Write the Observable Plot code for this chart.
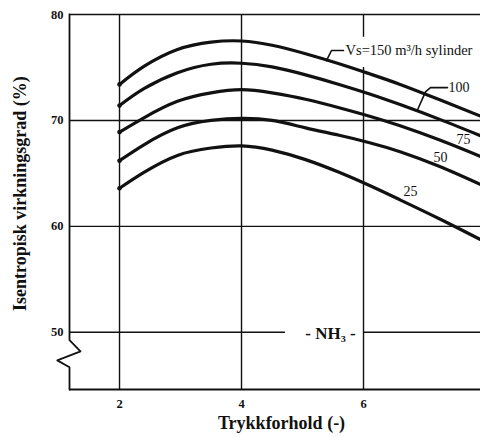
<!DOCTYPE html>
<html>
<head>
<meta charset="utf-8">
<script src="https://cdn.jsdelivr.net/npm/d3@7"></script>
<script src="https://cdn.jsdelivr.net/npm/@observablehq/plot@0.6"></script>
<style>
  html, body { margin: 0; padding: 0; background: #fff; overflow: hidden; }
  #chart svg { display: block; }
</style>
</head>
<body>
<div id="chart"></div>
<script>
// Trykkforhold (pressure ratio) sampled along each curve
const ratio = [2, 2.4, 2.95, 3.5, 4, 4.5, 5.05, 5.6, 6.1, 6.6, 7.25, 7.92];

// Isentropic efficiency (%) for each swept volume (m³/h per cylinder)
const eff150 = [73.4, 75.1, 76.7, 77.4, 77.5, 77.1, 76.3, 75.35, 74.4, 73.4, 71.95, 70.4];
const eff100 = [71.4, 73.0, 74.5, 75.3, 75.4, 75.05, 74.3, 73.4, 72.5, 71.5, 70.1, 68.55];
const eff75  = [68.9, 70.25, 71.8, 72.6, 72.9, 72.6, 72.0, 71.2, 70.4, 69.5, 68.15, 66.6];
const eff50  = [66.2, 67.7, 69.3, 70.0, 70.2, 70.0, 69.3, 68.6, 67.9, 67.05, 65.65, 63.95];
const eff25  = [63.6, 65.1, 66.7, 67.4, 67.6, 67.2, 66.3, 65.1, 63.85, 62.5, 60.7, 58.75];

const volumes = ["150", "100", "75", "50", "25"];
const effBySeries = [eff150, eff100, eff75, eff50, eff25];

const xTicks = [2, 4, 6];
const yTicks = [50, 60, 70, 80];

const rows = volumes.flatMap((v, i) =>
  ratio.map((r, j) => ({ volume: v, ratio: r, eff: effBySeries[i][j] }))
);

const xMin = 1.18, xMax = 7.918;
const yMin = 44.6, yMax = 80;
const ink = "#111";
const serif = "'Liberation Serif', 'Times New Roman', serif";

// left axis with a break symbol below 50
const axisBreak = [
  { x: xMin, y: yMax }, { x: xMin, y: 49.25 }, { x: 1.36, y: 48.2 },
  { x: 0.98, y: 47.35 }, { x: xMin, y: 46.7 }, { x: xMin, y: yMin }
];

const chart = Plot.plot({
  width: 480,
  height: 437,
  marginTop: 14,
  marginBottom: 48,
  marginLeft: 69,
  marginRight: 0,
  style: { fontFamily: serif, background: "#fff", color: ink },
  x: { domain: [xMin, xMax], axis: null },
  y: { domain: [yMin, yMax], axis: null },
  marks: [
    // grid
    Plot.ruleX([2, 4], { y1: yMin, y2: yMax, stroke: ink, strokeWidth: 1.4 }),
    Plot.ruleX([6], { y1: yMin, y2: 75.0, stroke: ink, strokeWidth: 1.4 }),
    Plot.ruleX([6], { y1: 77.85, y2: yMax, stroke: ink, strokeWidth: 1.4 }),
    Plot.ruleY([60, 70], { x1: xMin, x2: xMax, stroke: ink, strokeWidth: 1.4 }),
    Plot.ruleY([50], { x1: xMin, x2: 4.72, stroke: ink, strokeWidth: 1.4 }),
    Plot.ruleY([50], { x1: 6.0, x2: xMax, stroke: ink, strokeWidth: 1.4 }),
    // frame
    Plot.ruleY([yMax], { x1: xMin, x2: xMax, stroke: ink, strokeWidth: 1.6 }),
    Plot.ruleY([yMin], { x1: xMin, x2: xMax, stroke: ink, strokeWidth: 2 }),
    Plot.line(axisBreak, { x: "x", y: "y", stroke: ink, strokeWidth: 1.8, curve: "linear" }),
    // efficiency curves
    Plot.line(rows, { x: "ratio", y: "eff", z: "volume", stroke: ink, strokeWidth: 3.2, curve: "natural" }),
    Plot.dot(rows.filter(d => d.ratio === ratio[0]), { x: "ratio", y: "eff", r: 2.3, fill: ink }),
    // tick labels
    Plot.text(yTicks, { x: xMin, y: d => d, dx: -6, textAnchor: "end", text: d => String(d), fontSize: 12.5, fontWeight: "bold", fill: ink }),
    Plot.text(xTicks, { x: d => d, y: yMin, dy: 14, text: d => String(d), fontSize: 12.5, fontWeight: "bold", fill: ink }),
    // axis titles
    Plot.text(["Trykkforhold (-)"], { x: 4.656, y: yMin, dy: 34, fontSize: 18, fontWeight: "bold", fill: ink }),
    Plot.text(["Isentropisk virkningsgrad (%)"], { x: 0.377, y: 63.1, rotate: -90, fontSize: 18, fontWeight: "bold", fill: ink }),
    // curve annotations
    Plot.line([{ x: 5.672, y: 76.6 }, { x: 5.475, y: 76.6 }, { x: 5.393, y: 75.65 }], { x: "x", y: "y", stroke: ink, strokeWidth: 1.6 }),
    Plot.text(["Vs=150 m³/h sylinder"], { x: 5.705, y: 76.6, textAnchor: "start", fontSize: 14.5, fill: ink }),
    Plot.line([{ x: 7.377, y: 73.1 }, { x: 7.098, y: 73.1 }, { x: 7.016, y: 72.7 }, { x: 6.885, y: 70.98 }], { x: "x", y: "y", stroke: ink, strokeWidth: 1.6, curve: "linear" }),
    Plot.text(["100"], { x: 7.393, y: 73.1, textAnchor: "start", fontSize: 14, fill: ink }),
    Plot.text(["75"], { x: 7.639, y: 68.16, fontSize: 14, fill: ink }),
    Plot.text(["50"], { x: 7.262, y: 66.5, fontSize: 14, fill: ink }),
    Plot.text(["25"], { x: 6.77, y: 63.28, fontSize: 14, fill: ink }),
    Plot.text(["- NH₃ -"], { x: 5.459, y: 50, dy: 1, fontSize: 17, fontWeight: "bold", fill: ink })
  ]
});

document.getElementById("chart").appendChild(chart);
</script>
</body>
</html>
